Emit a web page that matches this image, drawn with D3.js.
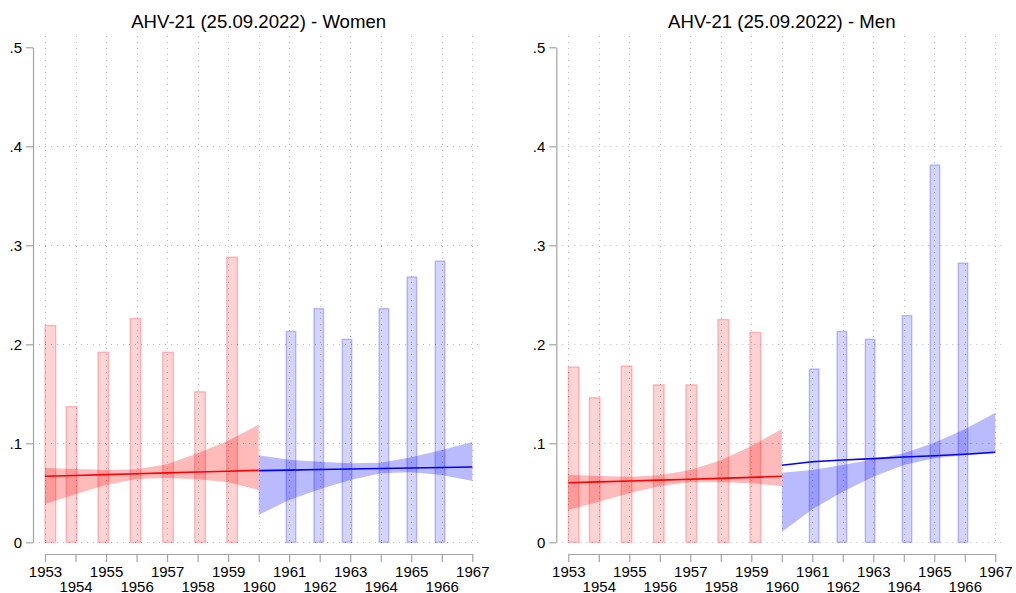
<!DOCTYPE html>
<html>
<head>
<meta charset="utf-8">
<script src="https://cdn.jsdelivr.net/npm/d3@7"></script>
<style>
  html, body { margin: 0; padding: 0; background: #fff; }
  svg { display: block; font-family: "Liberation Sans", Arial, sans-serif; }
</style>
</head>
<body>
<svg id="chart" width="1016" height="593"></svg>
<script>
// Birth cohorts before and after the 1960 cut-off
const cohortsBefore = [1953, 1954, 1955, 1956, 1957, 1958, 1959];
const cohortsAfter  = [1961, 1962, 1963, 1964, 1965, 1966];

// Where each cohort's bar sits on the year axis
const barPosBefore = [1953.175, 1953.865, 1954.91, 1955.965, 1957.03, 1958.08, 1959.13];
const barPosAfter  = [1961.06, 1961.97, 1962.895, 1964.105, 1965.02, 1965.94];

// Bar values (share) per cohort
const womenBefore = [0.219, 0.137, 0.192, 0.226, 0.192, 0.152, 0.288];
const womenAfter  = [0.213, 0.236, 0.205, 0.236, 0.268, 0.284];
const menBefore   = [0.177, 0.146, 0.178, 0.159, 0.159, 0.225, 0.212];
const menAfter    = [0.175, 0.213, 0.205, 0.229, 0.381, 0.282];

// Fitted lines with confidence bands, evaluated at each year
const fitYearsBefore = [1953, 1954, 1955, 1956, 1957, 1958, 1959, 1960];
const fitYearsAfter  = [1960, 1961, 1962, 1963, 1964, 1965, 1966, 1967];

const womenFitBefore = [0.0667, 0.0675, 0.0684, 0.0693, 0.0701, 0.0710, 0.0718, 0.0727];
const womenHiBefore  = [0.0750, 0.0740, 0.0730, 0.0737, 0.0788, 0.0899, 0.1027, 0.1188];
const womenLoBefore  = [0.0387, 0.0485, 0.0579, 0.0639, 0.0649, 0.0636, 0.0606, 0.0528];
const womenFitAfter  = [0.0724, 0.0729, 0.0735, 0.0740, 0.0746, 0.0751, 0.0756, 0.0761];
const womenHiAfter   = [0.0879, 0.0834, 0.0814, 0.0798, 0.0804, 0.0859, 0.0932, 0.1013];
const womenLoAfter   = [0.0276, 0.0427, 0.0535, 0.0629, 0.0697, 0.0707, 0.0680, 0.0619];

const menFitBefore = [0.0602, 0.0610, 0.0619, 0.0628, 0.0637, 0.0646, 0.0656, 0.0667];
const menHiBefore  = [0.0683, 0.0670, 0.0663, 0.0677, 0.0730, 0.0830, 0.0973, 0.1144];
const menLoBefore  = [0.0326, 0.0410, 0.0495, 0.0569, 0.0606, 0.0606, 0.0596, 0.0569];
const menFitAfter  = [0.0778, 0.0814, 0.0831, 0.0845, 0.0862, 0.0875, 0.0889, 0.0909];
const menHiAfter   = [0.0703, 0.0730, 0.0781, 0.0838, 0.0899, 0.1006, 0.1141, 0.1309];
const menLoAfter   = [0.0104, 0.0333, 0.0511, 0.0663, 0.0781, 0.0848, 0.0879, 0.0899];

// Axis ticks
const xTickYears = d3.range(1953, 1968);
const yTickValues = [0, 0.1, 0.2, 0.3, 0.4, 0.5];
const yTickLabels = ["0", ".1", ".2", ".3", ".4", ".5"];
const yGridValues = [0, 0.1, 0.2, 0.3, 0.4];

const titles = ["AHV-21 (25.09.2022) - Women", "AHV-21 (25.09.2022) - Men"];

const panels = [
  {
    title: titles[0], x0: 45, x1: 472.3,
    barsBefore: womenBefore, barsAfter: womenAfter,
    fitB: womenFitBefore, hiB: womenHiBefore, loB: womenLoBefore,
    fitA: womenFitAfter, hiA: womenHiAfter, loA: womenLoAfter
  },
  {
    title: titles[1], x0: 568.3, x1: 995.3,
    barsBefore: menBefore, barsAfter: menAfter,
    fitB: menFitBefore, hiB: menHiBefore, loB: menLoBefore,
    fitA: menFitAfter, hiA: menHiAfter, loA: menLoAfter
  }
];

const RED = "#ff0000", BLUE = "#0000ff";
const AXIS_COLOR = "#a3a3a3";
const GRID_COLOR = "#b8b8b8";
const LABEL_SIZE = 15;
const yTop = 47.3, yBottom = 542.3;

const svg = d3.select("#chart");

panels.forEach(p => {
  const g = svg.append("g");
  const x = d3.scaleLinear().domain([1953, 1967]).range([p.x0, p.x1]);
  const y = d3.scaleLinear().domain([0, 0.5]).range([yBottom, yTop]);

  // Title
  g.append("text")
    .attr("x", (p.x0 + p.x1) / 2)
    .attr("y", 28.3)
    .attr("text-anchor", "middle")
    .attr("font-size", 18.6)
    .attr("fill", "#000")
    .text(p.title);

  // Dotted grid
  const grid = g.append("g")
    .attr("stroke", GRID_COLOR)
    .attr("stroke-width", 1)
    .attr("stroke-dasharray", "1,5");
  grid.selectAll("line.v").data(xTickYears).join("line")
    .attr("class", "v")
    .attr("x1", d => Math.round(x(d)) + 0.5).attr("x2", d => Math.round(x(d)) + 0.5)
    .attr("y1", 36).attr("y2", 546);
  grid.selectAll("line.h").data(yGridValues).join("line")
    .attr("class", "h")
    .attr("y1", d => Math.round(y(d)) + 0.5).attr("y2", d => Math.round(y(d)) + 0.5)
    .attr("x1", p.x0 - 6).attr("x2", p.x1 + 7);

  // Bars
  const drawBars = (pos, vals, color, w) => {
    const data = pos.map((d, i) => ({ x: d, v: vals[i] }));
    g.append("g").selectAll("rect").data(data).join("rect")
      .attr("x", d => x(d.x) - w / 2)
      .attr("width", w)
      .attr("y", d => y(d.v))
      .attr("height", d => y(0) - y(d.v))
      .attr("fill", color).attr("fill-opacity", 0.17)
      .attr("stroke", color).attr("stroke-opacity", 0.24)
      .attr("stroke-width", 1.4);
  };
  drawBars(barPosBefore, p.barsBefore, RED, 10.6);
  drawBars(barPosAfter, p.barsAfter, BLUE, 9.5);

  // Confidence bands and fitted lines
  const drawFit = (years, fit, hi, lo, color) => {
    const pts = years.map((yr, i) => ({ yr, f: fit[i], h: hi[i], l: lo[i] }));
    const area = d3.area().x(d => x(d.yr)).y0(d => y(d.l)).y1(d => y(d.h));
    g.append("path").datum(pts)
      .attr("d", area)
      .attr("fill", color).attr("fill-opacity", 0.27);
    return pts;
  };
  const ptsB = drawFit(fitYearsBefore, p.fitB, p.hiB, p.loB, RED);
  const ptsA = drawFit(fitYearsAfter, p.fitA, p.hiA, p.loA, BLUE);
  const line = d3.line().x(d => x(d.yr)).y(d => y(d.f));
  g.append("path").datum(ptsB).attr("d", line)
    .attr("fill", "none").attr("stroke", RED).attr("stroke-width", 1.6);
  g.append("path").datum(ptsA).attr("d", line)
    .attr("fill", "none").attr("stroke", BLUE).attr("stroke-width", 1.6);

  // Y axis
  const yAxis = d3.axisLeft(y)
    .tickValues(yTickValues)
    .tickFormat((d, i) => yTickLabels[i])
    .tickSize(7).tickSizeOuter(0).tickPadding(4);
  const ya = g.append("g").attr("transform", `translate(${p.x0 - 12},0)`).call(yAxis);
  ya.attr("font-size", LABEL_SIZE).attr("font-family", "Liberation Sans, Arial, sans-serif");
  ya.select(".domain").attr("stroke", AXIS_COLOR).attr("stroke-width", 1.2);
  ya.selectAll(".tick line").attr("stroke", AXIS_COLOR).attr("stroke-width", 1.2);
  ya.selectAll(".tick text").attr("fill", "#000");

  // X axis with staggered labels
  const xAxis = d3.axisBottom(x)
    .tickValues(xTickYears)
    .tickFormat(d3.format("d"))
    .tickSize(8).tickSizeOuter(0);
  const xa = g.append("g").attr("transform", `translate(0,554)`).call(xAxis);
  xa.attr("font-size", LABEL_SIZE).attr("font-family", "Liberation Sans, Arial, sans-serif");
  xa.select(".domain").attr("stroke", AXIS_COLOR).attr("stroke-width", 1.2);
  xa.selectAll(".tick line").attr("stroke", AXIS_COLOR).attr("stroke-width", 1.2);
  xa.selectAll(".tick text")
    .attr("fill", "#000")
    .attr("dy", 0)
    .attr("y", d => (d % 2 === 1) ? 22.7 : 37.5);
});
</script>
</body>
</html>
